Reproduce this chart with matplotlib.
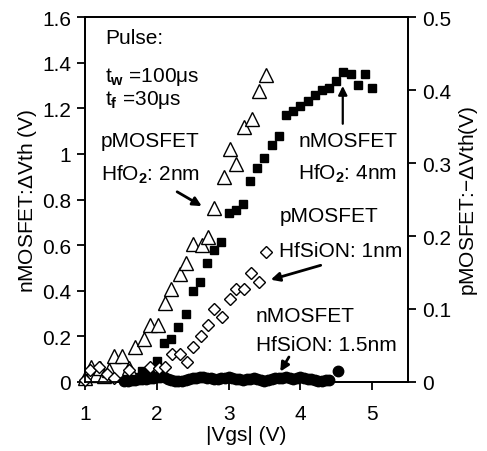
import matplotlib.pyplot as plt

plt.rcParams['font.family'] = ['Liberation Sans', 'DejaVu Sans']
plt.rcParams['mathtext.fontset'] = 'custom'
plt.rcParams['mathtext.rm'] = 'Liberation Sans'
plt.rcParams['mathtext.it'] = 'Liberation Sans'
plt.rcParams['mathtext.bf'] = 'Liberation Sans:bold'

# nMOSFET HfO2 4nm (left axis)
sq_x = [1.6, 1.7, 1.8, 1.9, 2.0, 2.1, 2.2, 2.3, 2.4, 2.5, 2.6, 2.7, 2.8, 2.9,
        3.0, 3.1, 3.2, 3.3, 3.4, 3.5, 3.6, 3.7, 3.8, 3.9, 4.0, 4.1, 4.2, 4.3,
        4.4, 4.5, 4.6, 4.7, 4.8, 4.9, 5.0]
sq_y = [0.01, 0.02, 0.05, 0.03, 0.09, 0.17, 0.19, 0.24, 0.30, 0.40, 0.44, 0.52,
        0.58, 0.615, 0.74, 0.755, 0.78, 0.88, 0.94, 0.98, 1.04, 1.08, 1.17,
        1.19, 1.21, 1.23, 1.26, 1.28, 1.29, 1.32, 1.36, 1.35, 1.30, 1.35, 1.29]

# nMOSFET HfSiON 1.5nm (left axis)
ci_x = [1.55, 1.60, 1.65, 1.70, 1.75, 1.80, 1.85, 1.90, 1.95, 2.00, 2.05, 2.10,
        2.15, 2.20, 2.25, 2.30, 2.35, 2.40, 2.45, 2.50, 2.55, 2.60, 2.65, 2.70,
        2.75, 2.80, 2.85, 2.90, 2.95, 3.00, 3.05, 3.10, 3.15, 3.20, 3.25, 3.30,
        3.35, 3.40, 3.45, 3.50, 3.55, 3.60, 3.65, 3.70, 3.75, 3.80, 3.85, 3.90,
        3.95, 4.00, 4.05, 4.10, 4.15, 4.20, 4.25, 4.30, 4.35, 4.40, 4.52]
ci_y = [0.004, 0.006, 0.008, 0.010, 0.012, 0.013, 0.015, 0.017, 0.019, 0.022,
        0.024, 0.020, 0.014, 0.008, 0.004, 0.003, 0.006, 0.010, 0.013, 0.016,
        0.018, 0.020, 0.021, 0.019, 0.017, 0.015, 0.014, 0.016, 0.019, 0.020,
        0.018, 0.014, 0.012, 0.010, 0.011, 0.014, 0.016, 0.011, 0.007, 0.006,
        0.010, 0.014, 0.018, 0.016, 0.018, 0.022, 0.017, 0.014, 0.019, 0.023,
        0.018, 0.012, 0.015, 0.010, 0.006, 0.005, 0.007, 0.010, 0.05]

# pMOSFET HfO2 2nm (right axis)
tr_x = [1.0, 1.09, 1.15, 1.21, 1.27, 1.33, 1.40, 1.51, 1.61, 1.70, 1.82, 1.90,
        2.02, 2.11, 2.20, 2.32, 2.41, 2.51, 2.63, 2.72, 2.79, 2.93, 3.02, 3.11,
        3.21, 3.32, 3.42, 3.52]
tr_y = [0.006, 0.020, 0.010, 0.019, 0.008, 0.016, 0.035, 0.035, 0.019, 0.048,
        0.059, 0.078, 0.078, 0.108, 0.128, 0.148, 0.163, 0.189, 0.188, 0.198,
        0.238, 0.281, 0.319, 0.299, 0.349, 0.361, 0.399, 0.420]

# pMOSFET HfSiON 1nm (right axis)
di_x = [1.0, 1.07, 1.19, 1.30, 1.41, 1.61, 1.91, 2.03, 2.12, 2.21, 2.33, 2.42,
        2.51, 2.62, 2.71, 2.80, 2.91, 3.02, 3.11, 3.22, 3.31, 3.42, 3.52]
di_y = [0.003, 0.016, 0.020, 0.011, 0.006, 0.016, 0.020, 0.019, 0.020, 0.038,
        0.038, 0.027, 0.048, 0.063, 0.078, 0.100, 0.089, 0.114, 0.128, 0.128,
        0.149, 0.137, 0.178]

fig = plt.figure(figsize=(4.87, 4.52), dpi=100)
ax = fig.add_axes([0.1745, 0.1527, 0.6635, 0.8073])
ax2 = ax.twinx()

ax.plot(ci_x, ci_y, 'o', color='black', markersize=7.5, clip_on=False, zorder=3)
ax.plot(sq_x, sq_y, 's', color='black', markersize=6, clip_on=False, zorder=3)
ax2.plot(tr_x, tr_y, '^', mfc='white', mec='black', mew=1.0, markersize=10, clip_on=False)
ax2.plot(di_x, di_y, 'D', mfc='white', mec='black', mew=1.0, markersize=6, clip_on=False)

ax.set_xlim(1, 5.5)
ax.set_ylim(0, 1.6)
ax2.set_ylim(0, 0.5)
ax.set_xticks([1, 2, 3, 4, 5])
ax.set_yticks([0, 0.2, 0.4, 0.6, 0.8, 1.0, 1.2, 1.4, 1.6])
ax.set_yticklabels(['0', '0.2', '0.4', '0.6', '0.8', '1', '1.2', '1.4', '1.6'])
ax2.set_yticks([0, 0.1, 0.2, 0.3, 0.4, 0.5])
ax2.set_yticklabels(['0', '0.1', '0.2', '0.3', '0.4', '0.5'])

for a in (ax, ax2):
    for s in a.spines.values():
        s.set_linewidth(1.3)
    a.tick_params(direction='out', length=6, width=1.3, labelsize=15, pad=4)
ax.tick_params(axis='x', pad=10)

ax.set_xlabel('|Vgs| (V)', fontsize=15, labelpad=1)
ax.set_ylabel('nMOSFET:$\\Delta$Vth (V)', fontsize=15, labelpad=2)
ax2.set_ylabel('pMOSFET:$-\\Delta$Vth(V)', fontsize=15, labelpad=4)

fs = 15
ax.text(1.28, 1.51, 'Pulse:', fontsize=fs, va='center')
ax.text(1.28, 1.34, 't$_{\\mathbf{w}}$ =100$\\mu$s', fontsize=fs, va='center')
ax.text(1.28, 1.24, 't$_{\\mathbf{f}}$ =30$\\mu$s', fontsize=fs, va='center')
ax.text(1.22, 1.057, 'pMOSFET', fontsize=fs, va='center')
ax.text(1.22, 0.912, 'HfO$_{\\mathbf{2}}$: 2nm', fontsize=fs, va='center')
ax.annotate('', xy=(2.66, 0.765), xytext=(2.25, 0.84),
            arrowprops=dict(arrowstyle='-|>', color='black', lw=2, mutation_scale=13))

ax.text(3.97, 1.057, 'nMOSFET', fontsize=fs, va='center')
ax.text(3.97, 0.915, 'HfO$_{\\mathbf{2}}$: 4nm', fontsize=fs, va='center')
ax.annotate('', xy=(4.59, 1.31), xytext=(4.59, 1.12),
            arrowprops=dict(arrowstyle='-|>', color='black', lw=1.6, mutation_scale=13))

ax.text(3.71, 0.73, 'pMOSFET', fontsize=fs, va='center')
ax.text(3.70, 0.575, 'HfSiON: 1nm', fontsize=fs, va='center')
ax.annotate('', xy=(3.55, 0.445), xytext=(4.32, 0.515),
            arrowprops=dict(arrowstyle='-|>', color='black', lw=2, mutation_scale=13))

ax.text(3.38, 0.29, 'nMOSFET', fontsize=fs, va='center')
ax.text(3.38, 0.165, 'HfSiON: 1.5nm', fontsize=fs, va='center')
ax.annotate('', xy=(3.70, 0.035), xytext=(3.86, 0.12),
            arrowprops=dict(arrowstyle='-|>', color='black', lw=2, mutation_scale=13))

fig.savefig('out.png', dpi=100)
